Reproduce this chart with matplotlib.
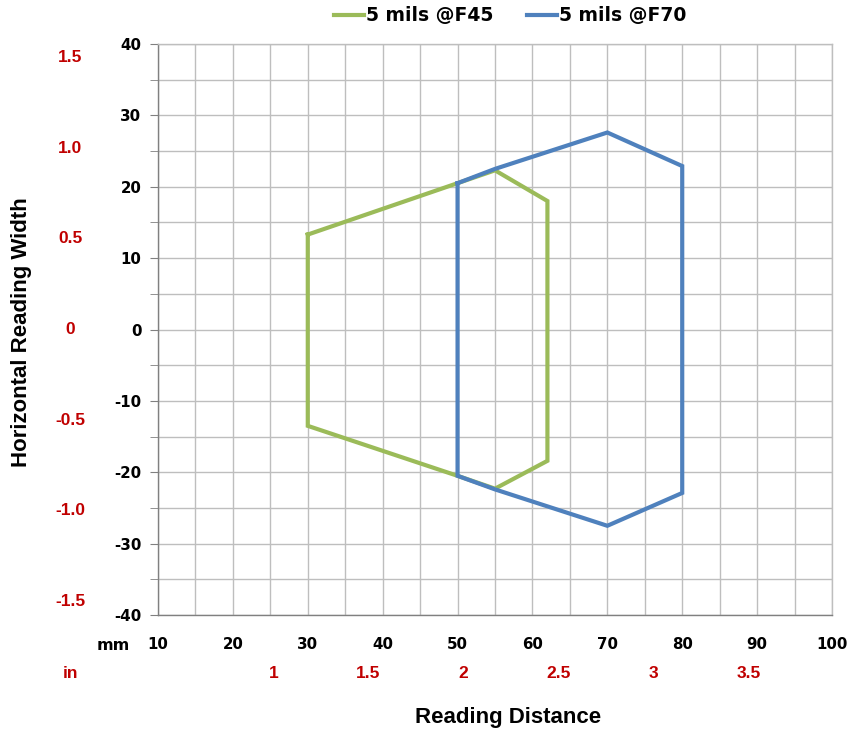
import matplotlib
matplotlib.use("Agg")
import matplotlib.pyplot as plt

plt.rcParams["axes.unicode_minus"] = False

# Data (mm)
f45_x = [30, 40, 50, 55, 62, 62, 55, 50, 40, 30, 30]
f45_y = [13.3, 16.9, 20.5, 22.3, 18.0, -18.4, -22.3, -20.5, -17.0, -13.5, 13.3]
f70_x = [50, 55, 70, 80, 80, 70, 55, 50, 50]
f70_y = [20.5, 22.5, 27.6, 22.9, -22.9, -27.5, -22.4, -20.5, 20.5]

mm_xticks = [10, 20, 30, 40, 50, 60, 70, 80, 90, 100]
mm_yticks = [40, 30, 20, 10, 0, -10, -20, -30, -40]
in_xlabels = [1, 1.5, 2, 2.5, 3, 3.5]
in_ylabels = ["1.5", "1.0", "0.5", "0", "-0.5", "-1.0", "-1.5"]
in_yvalues = [1.5, 1.0, 0.5, 0, -0.5, -1.0, -1.5]

green = "#9BBB59"
blue = "#4F81BD"
red = "#C00000"
gridc = "#BEBEBE"

fig = plt.figure(figsize=(8.52, 7.33), dpi=100)
ax = fig.add_axes([158/852, 1-615/733, (832-158)/852, (615-44)/733])
ax.set_xlim(10, 100)
ax.set_ylim(-40, 40)

ax.plot(f45_x, f45_y, color=green, lw=3.0, solid_joinstyle="miter", label="5 mils @F45", zorder=3)
ax.plot(f70_x, f70_y, color=blue, lw=3.0, solid_joinstyle="miter", label="5 mils @F70", zorder=4)

ax.set_xticks(mm_xticks)
ax.set_xticks(range(15, 100, 10), minor=True)
ax.set_yticks(mm_yticks)
ax.set_yticks(range(-35, 40, 10), minor=True)
ax.grid(True, which="both", color=gridc, lw=1.0, zorder=0)
ax.set_axisbelow(True)
for s in ["top", "right"]:
    ax.spines[s].set_color(gridc)
    ax.spines[s].set_linewidth(1.0)
for s in ["left", "bottom"]:
    ax.spines[s].set_color("#808080")
    ax.spines[s].set_linewidth(1.0)

ax.tick_params(axis="x", which="both", length=0, pad=16, labelsize=10.8)
ax.tick_params(axis="y", which="both", length=6, color="#808080", direction="out", pad=6, labelsize=10.8)
for lab in ax.get_xticklabels() + ax.get_yticklabels():
    lab.set_fontweight("bold")

# inch labels
xt = ax.get_xaxis_transform()
for v in in_xlabels:
    ax.text(v * 25.4, -0.103, f"{v:g}", transform=xt, ha="center", va="center",
            color=red, fontsize=12.5, fontweight="bold", family="Liberation Sans")
yt = ax.get_yaxis_transform()
for lbl, v in zip(in_ylabels, in_yvalues):
    ax.text(-0.13, v * 25.4, lbl, transform=yt, ha="center", va="center",
            color=red, fontsize=12.5, fontweight="bold", family="Liberation Sans")

fig.text(113/852, 1-645/733, "mm", ha="center", va="center", fontsize=11.5, fontweight="bold")
fig.text(70/852, 1-673/733, "in", ha="center", va="center", fontsize=12.5, fontweight="bold",
         color=red, family="Liberation Sans")

fig.text(508/852, 1-717/733, "Reading Distance", ha="center", va="center", fontsize=16,
         fontweight="bold", family="Liberation Sans")
fig.text(22/852, 1-332/733, "Horizontal Reading Width", ha="center", va="center",
         rotation=90, fontsize=16, fontweight="bold", family="Liberation Sans")

leg = fig.legend(loc="center", bbox_to_anchor=(510/852, 1-16/733), ncol=2, frameon=False,
                 handlelength=1.6, handletextpad=0.1, columnspacing=1.8,
                 prop={"weight": "bold", "size": 13.5})

fig.savefig("out.png", dpi=100)
